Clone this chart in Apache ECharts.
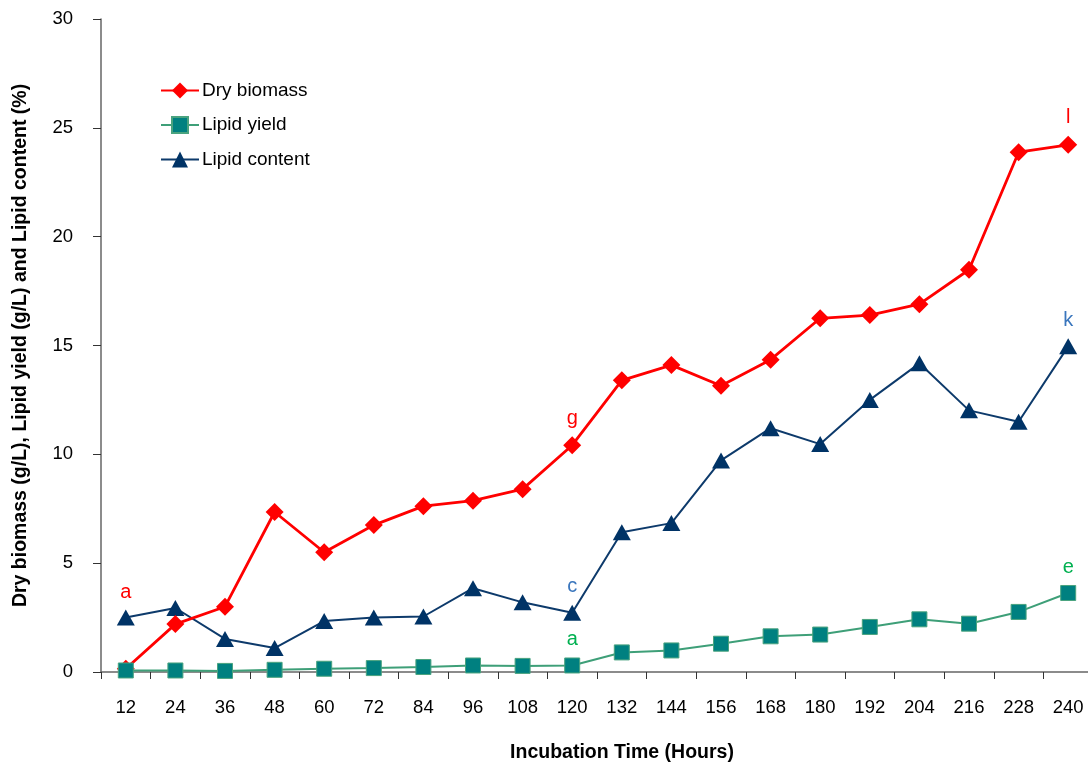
<!DOCTYPE html>
<html>
<head>
<meta charset="utf-8">
<script src="https://cdn.jsdelivr.net/npm/echarts@6/dist/echarts.min.js"></script>
<style>
  html, body { margin: 0; padding: 0; background: #fff; }
  #chart { width: 1088px; height: 767px; }
</style>
</head>
<body>
<div id="chart"></div>
<script>
// Incubation times (hours)
const hours = ['12','24','36','48','60','72','84','96','108','120','132','144','156','168','180','192','204','216','228','240'];

// Dry biomass (g/L)
const dryBiomass = [0.15, 2.2, 3.0, 7.35, 5.5, 6.75, 7.62, 7.87, 8.4, 10.42, 13.4, 14.1, 13.15, 14.35, 16.25, 16.4, 16.9, 18.48, 23.88, 24.22];
// Lipid yield (g/L)
const lipidYield = [0.07, 0.07, 0.05, 0.1, 0.15, 0.18, 0.23, 0.3, 0.28, 0.3, 0.9, 0.99, 1.3, 1.64, 1.72, 2.07, 2.42, 2.22, 2.76, 3.63];
// Lipid content (%)
const lipidContent = [2.5, 2.94, 1.52, 1.1, 2.34, 2.5, 2.55, 3.85, 3.2, 2.72, 6.42, 6.84, 9.72, 11.2, 10.47, 12.5, 14.18, 12.02, 11.5, 14.96];

// Significance letters: index into hours -> letter
const biomassLetters = { 0: 'a', 9: 'g', 19: 'l' };
const yieldLetters = { 9: 'a', 19: 'e' };
const contentLetters = { 9: 'c', 19: 'k' };

const yTicks = [0, 5, 10, 15, 20, 25, 30];

const FONT = '"Liberation Sans", Arial, sans-serif';

function withLetters(values, letters, color, distances) {
  return values.map((v, i) => {
    if (letters[i] === undefined) return v;
    return {
      value: v,
      label: {
        show: true,
        formatter: letters[i],
        position: 'top',
        distance: (distances && distances[i] !== undefined) ? distances[i] : 8,
        color: color,
        fontSize: 20,
        fontFamily: FONT
      }
    };
  });
}

const chart = echarts.init(document.getElementById('chart'), null, { renderer: 'canvas' });

chart.setOption({
  animation: false,
  backgroundColor: '#ffffff',
  textStyle: { fontFamily: FONT },
  grid: {
    left: 101,
    top: 19,
    width: 992,
    height: 653,
    containLabel: false,
    outerBoundsMode: 'none'
  },
  legend: {
    orient: 'vertical',
    left: 160,
    top: 81,
    padding: 0,
    itemWidth: 38,
    itemHeight: 20,
    itemGap: 15.5,
    textStyle: { fontSize: 19, color: '#000', fontFamily: FONT, padding: [0, 0, 0, -2] },
    data: ['Dry biomass', 'Lipid yield', 'Lipid content']
  },
  xAxis: {
    type: 'category',
    data: hours,
    boundaryGap: true,
    name: 'Incubation Time (Hours)',
    nameLocation: 'middle',
    nameGap: 71,
    nameTextStyle: { fontSize: 19.5, fontWeight: 'bold', color: '#000', fontFamily: FONT, padding: [0, 0, 0, 50] },
    axisLine: { lineStyle: { color: '#666', width: 1.5 } },
    axisTick: { show: true, alignWithLabel: false, length: 7, lineStyle: { color: '#333' } },
    axisLabel: { fontSize: 18.5, color: '#000', margin: 26, fontFamily: FONT, interval: 0 },
    splitLine: { show: false }
  },
  yAxis: {
    type: 'value',
    min: yTicks[0],
    max: yTicks[yTicks.length - 1],
    interval: 5,
    name: 'Dry biomass (g/L), Lipid yield (g/L) and Lipid content (%)',
    nameLocation: 'middle',
    nameGap: 70,
    nameTextStyle: { fontSize: 19.5, fontWeight: 'bold', color: '#000', fontFamily: FONT },
    axisLine: { show: true, lineStyle: { color: '#666', width: 1.5 } },
    axisTick: { show: true, length: 8, lineStyle: { color: '#333' } },
    axisLabel: { fontSize: 18.5, color: '#000', margin: 28, fontFamily: FONT },
    splitLine: { show: false }
  },
  series: [
    {
      name: 'Dry biomass',
      type: 'line',
      data: withLetters(dryBiomass, biomassLetters, '#ff0000', { 0: 57 }),
      symbol: 'diamond',
      symbolSize: 18,
      lineStyle: { color: '#ff0000', width: 2.8 },
      itemStyle: { color: '#ff0000' },
      z: 3
    },
    {
      name: 'Lipid yield',
      type: 'line',
      data: withLetters(lipidYield, yieldLetters, '#00b050'),
      symbol: 'rect',
      symbolSize: 15,
      lineStyle: { color: '#3e9f78', width: 2 },
      itemStyle: { color: '#008080', borderColor: '#4aa37f', borderWidth: 1 },
      z: 4
    },
    {
      name: 'Lipid content',
      type: 'line',
      data: withLetters(lipidContent, contentLetters, '#3a76bd'),
      symbol: 'triangle',
      symbolSize: [18, 16],
      lineStyle: { color: '#0d3a6b', width: 2 },
      itemStyle: { color: '#003366' },
      z: 2
    }
  ]
});
</script>
</body>
</html>
